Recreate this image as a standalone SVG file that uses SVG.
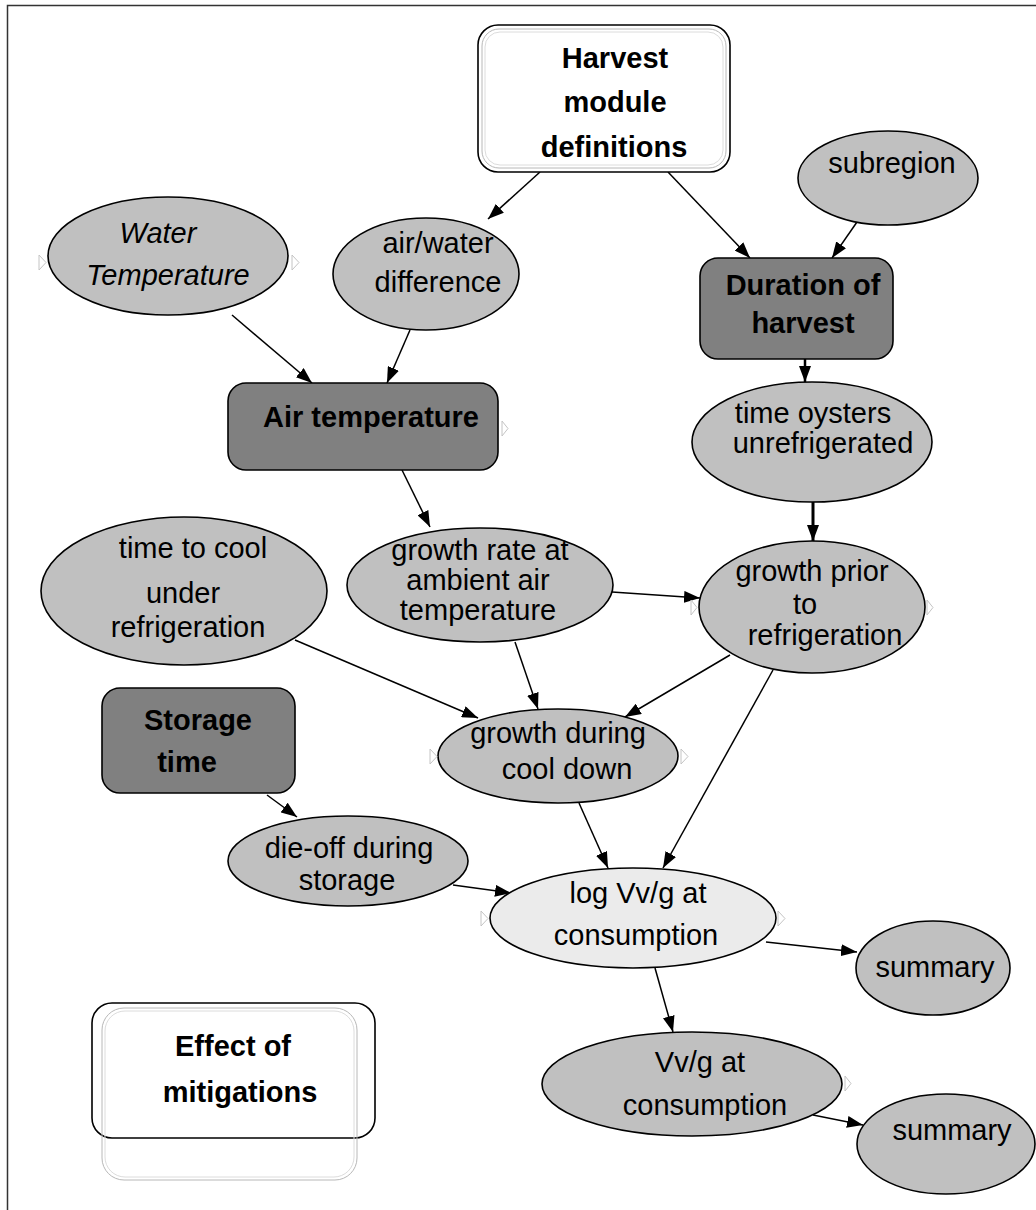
<svg xmlns="http://www.w3.org/2000/svg" width="1036" height="1210" viewBox="0 0 1036 1210">
<defs>
<marker id="ah" markerUnits="userSpaceOnUse" markerWidth="17" markerHeight="12" refX="16" refY="6" orient="auto">
<path d="M0,0 L16,6 L0,12 z" fill="#000"/>
</marker>
<style>
.t{font-family:"Liberation Sans",Arial,sans-serif;font-size:29px;fill:#000;text-anchor:middle}
.b{font-weight:bold}
.i{font-style:italic}
.ell{fill:#c0c0c0;stroke:#000;stroke-width:1.6}
.dark{fill:#808080;stroke:#000;stroke-width:1.6}
.white{fill:#fff;stroke:#000;stroke-width:1.6}
.ghost1{fill:none;stroke:#b8b8b8;stroke-width:1}
.ghost2{fill:none;stroke:#dcdcdc;stroke-width:1}
.port{fill:#fff;stroke:#c4c4c4;stroke-width:1}
.c{stroke:#000;stroke-width:1.5;fill:none;marker-end:url(#ah)}
</style>
</defs>
<rect x="7.5" y="5.5" width="1100" height="1300" fill="#fff" stroke="#333" stroke-width="1.5"/>

<g id="connectors">
<line class="c" x1="540" y1="172" x2="488" y2="219"/>
<line class="c" x1="668" y1="172" x2="750" y2="258"/>
<line class="c" x1="857" y1="222" x2="832" y2="258"/>
<line class="c" x1="232" y1="315" x2="312" y2="383"/>
<line class="c" x1="410" y1="330" x2="387" y2="383"/>
<line class="c" x1="805" y1="359" x2="805" y2="382" style="stroke-width:2.5"/>
<line class="c" x1="402" y1="470" x2="430" y2="527"/>
<line class="c" x1="813" y1="502" x2="813" y2="541" style="stroke-width:3"/>
<line class="c" x1="612" y1="592" x2="700" y2="598"/>
<line class="c" x1="295" y1="640" x2="478" y2="718"/>
<line class="c" x1="515" y1="642" x2="538" y2="709"/>
<line class="c" x1="730" y1="655" x2="625" y2="717"/>
<line class="c" x1="773" y1="670" x2="663" y2="868"/>
<line class="c" x1="579" y1="803" x2="608" y2="868"/>
<line class="c" x1="267" y1="795" x2="297" y2="817"/>
<line class="c" x1="453" y1="885" x2="511" y2="893"/>
<line class="c" x1="766" y1="942" x2="857" y2="952"/>
<line class="c" x1="655" y1="968" x2="673" y2="1032"/>
<line class="c" x1="813" y1="1115" x2="863" y2="1125"/>
</g>

<g id="harvest-module">
<rect class="white" x="478" y="25" width="252" height="147" rx="20"/>
<rect class="ghost1" x="482" y="29" width="244" height="139" rx="17"/>
<rect class="ghost2" x="485" y="32" width="238" height="133" rx="15"/>
<text class="t b"><tspan x="615" y="68">Harvest</tspan><tspan x="615" y="112">module</tspan><tspan x="614" y="157">definitions</tspan></text>
</g>

<g id="subregion">
<ellipse class="ell" cx="888" cy="178" rx="90" ry="47"/>
<text class="t" x="892" y="173">subregion</text>
</g>

<g id="duration">
<rect class="dark" x="700" y="258" width="193" height="101" rx="18"/>
<text class="t b"><tspan x="803" y="295">Duration of</tspan><tspan x="803" y="333">harvest</tspan></text>
</g>

<g id="water-temperature">
<ellipse class="ell" cx="168" cy="256" rx="120" ry="59"/>
<polygon class="port" points="39,255 46,262.5 39,270"/>
<polygon class="port" points="292,255 299,262.5 292,270"/>
<text class="t i"><tspan x="158" y="243">Water</tspan><tspan x="168" y="285">Temperature</tspan></text>
</g>

<g id="air-water">
<ellipse class="ell" cx="426" cy="274" rx="93" ry="56"/>
<text class="t"><tspan x="438" y="253">air/water</tspan><tspan x="438" y="292">difference</tspan></text>
</g>

<g id="air-temperature">
<rect class="dark" x="228" y="383" width="270" height="87" rx="18"/>
<polygon class="port" points="502,421 508,428.5 502,436"/>
<text class="t b" x="371" y="427">Air temperature</text>
</g>

<g id="time-oysters">
<ellipse class="ell" cx="812" cy="442" rx="120" ry="60"/>
<text class="t"><tspan x="813" y="423">time oysters</tspan><tspan x="823" y="453">unrefrigerated</tspan></text>
</g>

<g id="growth-rate">
<ellipse class="ell" cx="480" cy="585" rx="133" ry="57"/>
<text class="t"><tspan x="480" y="560">growth rate at</tspan><tspan x="478" y="590">ambient air</tspan><tspan x="478" y="620">temperature</tspan></text>
</g>

<g id="growth-prior">
<ellipse class="ell" cx="812" cy="607" rx="113" ry="66"/>
<polygon class="port" points="691,600 697,607.5 691,615"/>
<polygon class="port" points="927,600 933,607.5 927,615"/>
<text class="t"><tspan x="812" y="581">growth prior</tspan><tspan x="805" y="614">to</tspan><tspan x="825" y="645">refrigeration</tspan></text>
</g>

<g id="time-to-cool">
<ellipse class="ell" cx="184" cy="591" rx="143" ry="74"/>
<text class="t"><tspan x="193" y="558">time to cool</tspan><tspan x="183" y="603">under</tspan><tspan x="188" y="637">refrigeration</tspan></text>
</g>

<g id="storage-time">
<rect class="dark" x="102" y="688" width="193" height="105" rx="18"/>
<text class="t b"><tspan x="198" y="730">Storage</tspan><tspan x="187" y="772">time</tspan></text>
</g>

<g id="growth-during">
<ellipse class="ell" cx="558" cy="756" rx="120" ry="47"/>
<polygon class="port" points="430,749 437,756.5 430,764"/>
<polygon class="port" points="681,749 688,756.5 681,764"/>
<text class="t"><tspan x="558" y="743">growth during</tspan><tspan x="567" y="779">cool down</tspan></text>
</g>

<g id="die-off">
<ellipse class="ell" cx="348" cy="861" rx="120" ry="45"/>
<text class="t"><tspan x="349" y="858">die-off during</tspan><tspan x="347" y="890">storage</tspan></text>
</g>

<g id="log-vvg">
<ellipse cx="633" cy="918" rx="143" ry="50" fill="#ebebeb" stroke="#000" stroke-width="1.6"/>
<polygon class="port" points="481,911 488,918.5 481,926"/>
<polygon class="port" points="778,911 785,918.5 778,926"/>
<text class="t"><tspan x="638" y="903">log Vv/g at</tspan><tspan x="636" y="945">consumption</tspan></text>
</g>

<g id="summary-1">
<ellipse class="ell" cx="933" cy="968" rx="77" ry="47"/>
<text class="t" x="935" y="977">summary</text>
</g>

<g id="vvg">
<ellipse class="ell" cx="692" cy="1084" rx="150" ry="52"/>
<polygon class="port" points="845,1076 851,1083.5 845,1091"/>
<text class="t"><tspan x="700" y="1072">Vv/g at</tspan><tspan x="705" y="1115">consumption</tspan></text>
</g>

<g id="summary-2">
<ellipse class="ell" cx="946" cy="1144" rx="89" ry="50"/>
<text class="t" x="952" y="1140">summary</text>
</g>

<g id="effect-of-mitigations">
<rect class="white" x="92" y="1003" width="283" height="135" rx="20"/>
<rect class="ghost1" x="102" y="1008" width="255" height="172" rx="22"/>
<rect class="ghost2" x="105" y="1011" width="249" height="166" rx="20"/>
<text class="t b"><tspan x="233" y="1056">Effect of</tspan><tspan x="240" y="1102">mitigations</tspan></text>
</g>
</svg>
